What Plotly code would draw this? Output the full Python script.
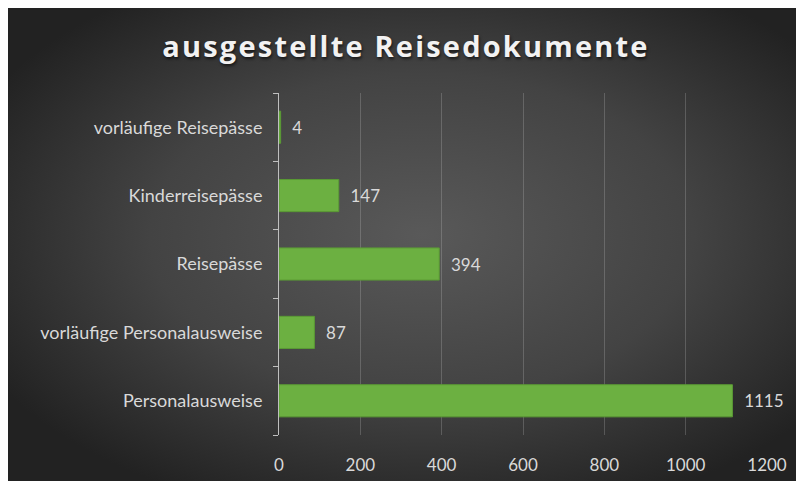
import plotly.graph_objects as go

categories = ["Personalausweise", "vorläufige Personalausweise", "Reisepässe",
              "Kinderreisepässe", "vorläufige Reisepässe"]
values = [1115, 87, 394, 147, 4]
x_ticks = [0, 200, 400, 600, 800, 1000, 1200]
title_text = "ausgestellte Reisedokumente"

# page body has an 8px margin, so the figure sits at (8, 8)
W, H = 796, 473
L, R, T, B = 271, 37, 85, 46
pw, ph = W - L - R, H - T - B

svg = ("data:image/svg+xml;utf8,"
       "<svg xmlns='http://www.w3.org/2000/svg' width='796' height='473' preserveAspectRatio='none'>"
       "<defs><radialGradient id='g' cx='52%' cy='48%' r='62%'>"
       "<stop offset='0' stop-color='%23595959'/>"
       "<stop offset='0.55' stop-color='%23434343'/>"
       "<stop offset='1' stop-color='%23222222'/>"
       "</radialGradient></defs>"
       "<rect width='796' height='473' fill='url(%23g)'/></svg>")

fnt = "Lato, Carlito, Calibri, sans-serif"

fig = go.Figure(go.Bar(
    x=values, y=categories, orientation="h",
    marker=dict(color="#6cb041", line=dict(color="#5a9a34", width=1)),
    text=values, texttemplate="  %{x}", textposition="outside",
    textfont=dict(family=fnt, size=17, color="#d9d9d9"),
    cliponaxis=False,
))

fig.update_layout(
    width=W, height=H,
    margin=dict(l=L, r=R, t=T, b=B, pad=0, autoexpand=False),
    paper_bgcolor="#262626",
    plot_bgcolor="rgba(0,0,0,0)",
    bargap=0.53,
    showlegend=False,
    title=dict(text="<span style='letter-spacing:2.2px'>" + title_text + "</span>",
               x=0.5, xref="container", xanchor="center",
               y=1 - 39 / H, yref="container", yanchor="middle",
               font=dict(family="Open Sans", size=29, color="#f2f2f2", weight="bold",
                         shadow="1px 2px 3px rgba(0,0,0,0.6)")),
    xaxis=dict(range=[0, 1200], tickvals=x_ticks, showgrid=True,
               gridcolor="rgba(217,217,217,0.22)", gridwidth=1,
               zeroline=False, showline=False, ticks="",
               tickfont=dict(family=fnt, size=17, color="#d9d9d9"),
               ticklabelstandoff=18, fixedrange=True, automargin=False),
    yaxis=dict(showline=True, linecolor="#bfbfbf", linewidth=1,
               ticks="outside", tickson="boundaries", ticklen=5,
               tickcolor="#bfbfbf", showgrid=False,
               tickfont=dict(family=fnt, size=18, color="#d9d9d9"),
               ticklabelstandoff=12, fixedrange=True, automargin=False),
    images=[dict(source=svg, xref="paper", yref="paper",
                 x=-L / pw, y=1 + T / ph,
                 sizex=W / pw, sizey=H / ph,
                 sizing="stretch", xanchor="left", yanchor="top",
                 layer="below")],
)

fig.write_html("out.html")
